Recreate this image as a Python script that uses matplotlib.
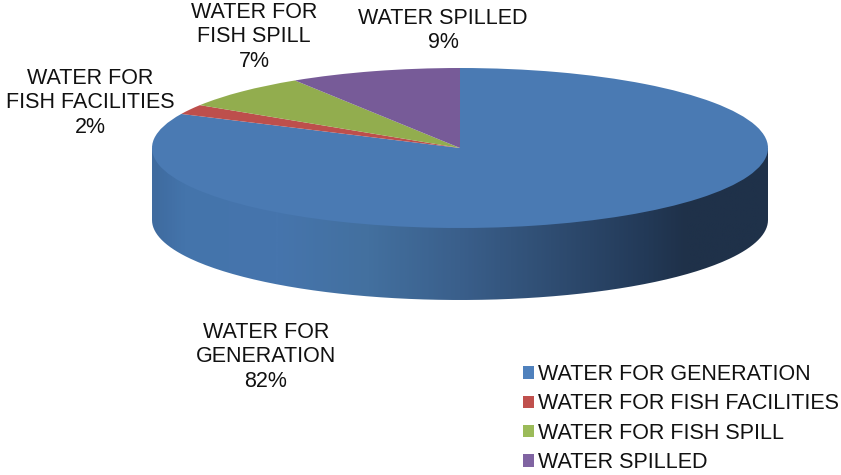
import numpy as np
import matplotlib
matplotlib.use("Agg")
import matplotlib.pyplot as plt
from matplotlib.colors import LinearSegmentedColormap
from matplotlib.patches import PathPatch, Patch
from matplotlib.path import Path

labels = ["WATER FOR GENERATION", "WATER FOR FISH FACILITIES",
          "WATER FOR FISH SPILL", "WATER SPILLED"]
values = [82, 2, 7, 9]
colors = ["#4a7ab3", "#bd4f4c", "#92ad4e", "#775b98"]
legend_colors = ["#4f81bd", "#c0504d", "#9bbb59", "#8064a2"]
pie_labels = ["WATER FOR\nGENERATION\n82%", "WATER FOR\nFISH FACILITIES\n2%",
              "WATER FOR\nFISH SPILL\n7%", "WATER SPILLED\n9%"]
label_x = [266, 90, 254, 443]
label_y = [357, 103, 37, 30.5]

plt.rcParams["font.family"] = ["Liberation Sans", "DejaVu Sans"]

W, H = 841, 475
cx, cy, rx, ry = 460, 148, 308, 80
depth = 72 / ry

fig = plt.figure(figsize=(W / 100, H / 100), dpi=100)
ax = fig.add_axes([0, 0, 1, 1])


def px(x, y):
    return (x - cx) / rx, (cy - y) / ry


# side wall, shaded left to right, top face covers the upper part
t = np.linspace(np.pi, 2 * np.pi, 200)
front = np.column_stack([np.cos(t), np.sin(t) - depth])
wall = Path(np.vstack([front, [[1, 0], [-1, 0]], front[:1]]))
shade = LinearSegmentedColormap.from_list("wall", [
    (0.0, "#3f6b9f"), (0.05, "#4474ab"), (0.2, "#4675ad"), (0.35, "#43709f"),
    (0.5, "#3a5f8b"), (0.65, "#2f4d72"), (0.8, "#233a58"), (0.87, "#1f3149"),
    (1.0, "#1f3149")])
x0, y0 = px(0, H)
x1, y1 = px(W, 0)
im = ax.imshow(np.linspace(0, 1, 400)[None, :], cmap=shade, aspect="auto",
               extent=[-1, 1, -1 - depth, 0], zorder=1)
clip = PathPatch(wall, transform=ax.transData, fc="none", ec="none")
ax.add_patch(clip)
im.set_clip_path(clip)

# top face
ax.pie(values, colors=colors, startangle=90, counterclock=False, radius=1,
       wedgeprops={"linewidth": 0, "zorder": 2})
ax.set_aspect("auto")
ax.set_xlim(x0, x1)
ax.set_ylim(y0, y1)
ax.axis("off")

for text, lx, ly in zip(pie_labels, label_x, label_y):
    ax.text(*px(lx, ly), text, ha="center", va="center", fontsize=15.5,
            color="#111111", linespacing=1.19)

handles = [Patch(fc=c, ec="none") for c in legend_colors]
ax.legend(handles, labels, loc="upper left", bbox_to_anchor=(523 / W, 1 - 364 / H),
          bbox_transform=fig.transFigure, frameon=False, fontsize=15.5,
          borderpad=0, borderaxespad=0, handlelength=0.51, handleheight=0.51,
          handletextpad=0.19, labelspacing=0.39, labelcolor="#111111")

fig.savefig("out.png", dpi=100)
